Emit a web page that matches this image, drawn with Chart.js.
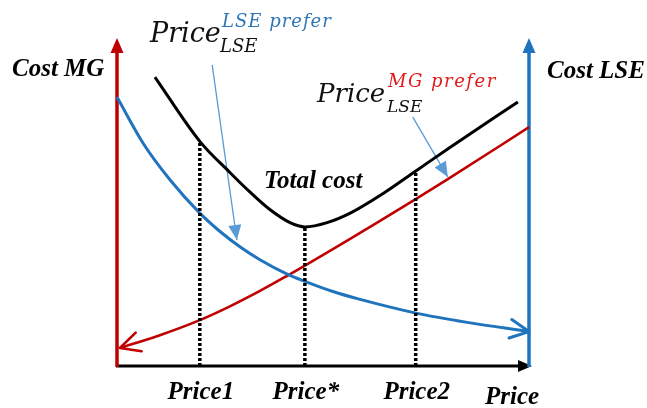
<!DOCTYPE html>
<html>
<head>
<meta charset="utf-8">
<script src="https://cdn.jsdelivr.net/npm/chart.js@4.4.1/dist/chart.umd.min.js"></script>
<style>
html, body { margin: 0; padding: 0; background: #fff; }
</style>
</head>
<body>
<canvas id="chart" width="647" height="408"></canvas>
<script>
// price on x, cost on y (both arbitrary 0..10 units)
const lseX = [0, 0.63, 1.29, 2.01, 2.5, 3.0, 3.47, 4.13, 4.56, 5.24, 5.9, 7.23, 8.5, 10]
const lseCost = [8.2, 6.8, 5.67, 4.66, 4.1, 3.62, 3.24, 2.8, 2.58, 2.27, 2.03, 1.62, 1.33, 1.05]

const mgX = [0.07, 1.04, 2.01, 2.74, 3.47, 4.13, 4.56, 5.24, 5.9, 7.23, 8.01, 10]
const mgCost = [0.55, 0.94, 1.4, 1.82, 2.29, 2.75, 3.06, 3.56, 4.06, 5.07, 5.68, 7.28]

const totalX = [0.92, 2.01, 2.74, 3.23, 3.71, 4.2, 4.56, 5.1, 5.66, 6.46, 7.28, 8.08, 9.73]
const totalCost = [8.81, 6.85, 5.9, 5.3, 4.77, 4.37, 4.24, 4.37, 4.66, 5.26, 5.97, 6.66, 8.05]

// marked prices and where their drop lines meet the total cost curve
const priceX = [2.01, 4.56, 7.25]
const priceTop = [6.85, 4.24, 5.95]
const priceLabels = ['Price1', 'Price*', 'Price2']

// callout pointers [from, to]
const lseCalloutX = [2.31, 2.91]
const lseCalloutY = [9.18, 3.84]
const mgCalloutX = [7.18, 8.03]
const mgCalloutY = [7.59, 5.76]

const RED = '#c00000'
const BLUE = '#1f74bd'
const LIGHT = '#5b9bd5'

const pts = (xs, ys) => xs.map((x, i) => ({ x, y: ys[i] }))

const dropLines = priceX.map((x, i) => ({
	data: [{ x, y: 0 }, { x, y: priceTop[i] }],
	borderColor: '#000',
	borderWidth: 3.5,
	borderDash: [3, 2],
	clip: false
}))

// helpers for arrow heads
const tipAngle = (p, q) => Math.atan2(p.y - q.y, p.x - q.x)

const openHead = (ctx, tip, from, len, spread) => {
	const a = tipAngle(tip, from)
	ctx.beginPath()
	ctx.moveTo(tip.x - len * Math.cos(a - spread), tip.y - len * Math.sin(a - spread))
	ctx.lineTo(tip.x, tip.y)
	ctx.lineTo(tip.x - len * Math.cos(a + spread), tip.y - len * Math.sin(a + spread))
	ctx.stroke()
}

const solidHead = (ctx, tip, a, len, half) => {
	const bx = tip.x - len * Math.cos(a)
	const by = tip.y - len * Math.sin(a)
	ctx.beginPath()
	ctx.moveTo(tip.x, tip.y)
	ctx.lineTo(bx + half * Math.sin(a), by - half * Math.cos(a))
	ctx.lineTo(bx - half * Math.sin(a), by + half * Math.cos(a))
	ctx.closePath()
	ctx.fill()
}

const drawText = (ctx, text, x, y, font, color, align = 'left', spacing = 0) => {
	ctx.font = font
	ctx.fillStyle = color
	ctx.textAlign = align
	ctx.textBaseline = 'alphabetic'
	ctx.letterSpacing = spacing + 'px'
	ctx.fillText(text, x, y)
	ctx.letterSpacing = '0px'
}

const axesPlugin = {
	id: 'axes',
	beforeDatasetsDraw(chart) {
		const { ctx, chartArea: { left, right, top, bottom } } = chart
		ctx.save()
		// price axis
		ctx.strokeStyle = '#000'
		ctx.fillStyle = '#000'
		ctx.lineWidth = 3
		ctx.beginPath()
		ctx.moveTo(left - 1, bottom)
		ctx.lineTo(right - 8, bottom)
		ctx.stroke()
		solidHead(ctx, { x: right + 3, y: bottom }, 0, 14, 6)
		// MG cost axis
		ctx.strokeStyle = RED
		ctx.fillStyle = RED
		ctx.lineWidth = 3.5
		ctx.beginPath()
		ctx.moveTo(left, bottom + 1)
		ctx.lineTo(left, top + 12)
		ctx.stroke()
		solidHead(ctx, { x: left, y: top }, -Math.PI / 2, 15, 6.5)
		// LSE cost axis
		ctx.strokeStyle = BLUE
		ctx.fillStyle = BLUE
		ctx.beginPath()
		ctx.moveTo(right, bottom + 1)
		ctx.lineTo(right, top + 12)
		ctx.stroke()
		solidHead(ctx, { x: right, y: top }, -Math.PI / 2, 15, 6.5)
		ctx.restore()
	},
	afterDatasetsDraw(chart) {
		const { ctx, scales: { x } } = chart
		ctx.save()
		ctx.lineCap = 'round'
		ctx.lineJoin = 'round'
		chart.data.datasets.forEach((ds, i) => {
			if (!ds.head) return
			const pts = chart.getDatasetMeta(i).data
			ctx.strokeStyle = ds.borderColor
			ctx.fillStyle = ds.borderColor
			ctx.lineWidth = ds.borderWidth
			if (ds.head === 'start') {
				openHead(ctx, pts[0], pts[1], 22, 0.46)
			} else if (ds.head === 'end') {
				const n = pts.length
				openHead(ctx, pts[n - 1], pts[n - 2], 21, 0.46)
			} else if (ds.head === 'pointer') {
				solidHead(ctx, pts[1], tipAngle(pts[1], pts[0]), 15, 6.5)
			}
		})
		ctx.restore()

		ctx.save()
		const bi = 'bold italic 25px "Liberation Serif"'
		drawText(ctx, 'Cost MG', 12, 76, bi, '#000')
		drawText(ctx, 'Cost LSE', 547, 78, bi, '#000')
		drawText(ctx, 'Total cost', 264, 188, bi, '#000')
		drawText(ctx, 'Price', 485, 404, bi, '#000')
		priceX.forEach((v, i) => {
			drawText(ctx, priceLabels[i], x.getPixelForValue(v) + 1, 399, bi, '#000', 'center')
		})

		const mi = (s) => `italic ${s}px "DejaVu Serif"`
		drawText(ctx, 'Price', 150, 42, mi(27), '#111')
		drawText(ctx, 'LSE', 220, 52, mi(18), '#111')
		drawText(ctx, 'LSE prefer', 222, 27, mi(18), '#2e75b6', 'left', 1)

		drawText(ctx, 'Price', 317, 102, mi(26), '#111')
		drawText(ctx, 'LSE', 387, 112, mi(17), '#111')
		drawText(ctx, 'MG prefer', 388, 87, mi(18), '#e31a1c', 'left', 1.5)
		ctx.restore()
	}
}

const chart = new Chart(document.getElementById('chart'), {
	type: 'line',
	data: {
		datasets: [
			...dropLines,
			{
				data: pts(lseX, lseCost),
				borderColor: BLUE,
				borderWidth: 3,
				cubicInterpolationMode: 'monotone',
				head: 'end',
				clip: false
			},
			{
				data: pts(mgX, mgCost),
				borderColor: RED,
				borderWidth: 2.6,
				cubicInterpolationMode: 'monotone',
				head: 'start',
				clip: false
			},
			{
				data: pts(totalX, totalCost),
				borderColor: '#000',
				borderWidth: 3,
				cubicInterpolationMode: 'monotone',
				clip: false
			},
			{
				data: pts(lseCalloutX, lseCalloutY),
				borderColor: LIGHT,
				borderWidth: 1.3,
				head: 'pointer',
				clip: false
			},
			{
				data: pts(mgCalloutX, mgCalloutY),
				borderColor: LIGHT,
				borderWidth: 1.3,
				head: 'pointer',
				clip: false
			}
		]
	},
	options: {
		responsive: false,
		animation: false,
		devicePixelRatio: 1,
		layout: { padding: { left: 117, right: 118, top: 38, bottom: 42 } },
		elements: { point: { radius: 0, hoverRadius: 0 } },
		plugins: { legend: { display: false }, tooltip: { enabled: false } },
		scales: {
			x: { type: 'linear', min: 0, max: 10, display: false },
			y: { type: 'linear', min: 0, max: 10, display: false }
		}
	},
	plugins: [axesPlugin]
})
</script>
</body>
</html>
